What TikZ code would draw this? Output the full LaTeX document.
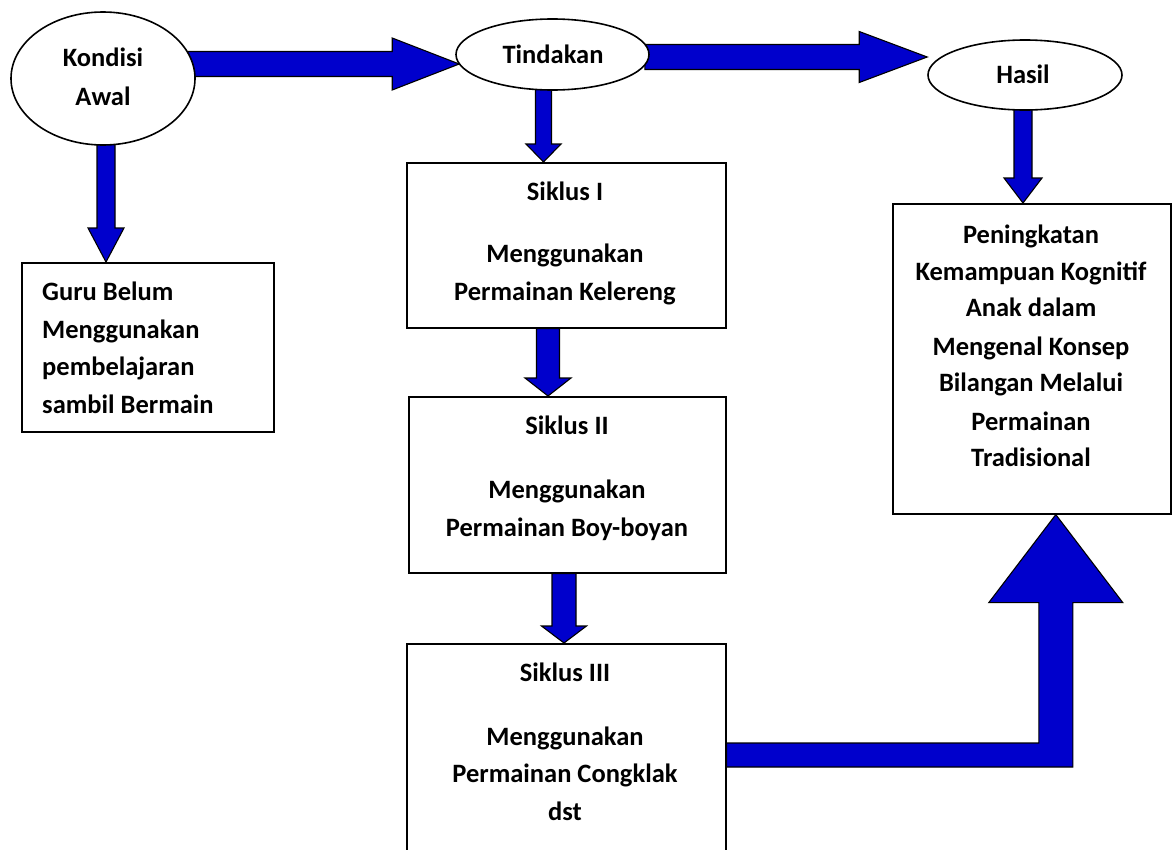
\documentclass[tikz,border=0pt]{standalone}
\usepackage{fontspec}
\setmainfont{Carlito}
\usetikzlibrary{shapes.geometric,calc}
\definecolor{arrowblue}{RGB}{0,0,204}
\pgfdeclarelayer{bg}
\pgfsetlayers{bg,main}
% horizontal fat arrow: #1 start, #2 tip, #3 shaft half, #4 head half, #5 head length
\newcommand\fatH[5]{\draw[fat] let \p1=#1, \p2=#2 in
  (\x1,\y2+#3pt) -- (\x2-#5pt,\y2+#3pt) -- (\x2-#5pt,\y2+#4pt) -- (\x2,\y2)
  -- (\x2-#5pt,\y2-#4pt) -- (\x2-#5pt,\y2-#3pt) -- (\x1,\y2-#3pt) -- cycle;}
% downward fat arrow
\newcommand\fatD[5]{\draw[fat] let \p1=#1, \p2=#2 in
  (\x2-#3pt,\y1) -- (\x2-#3pt,\y2+#5pt) -- (\x2-#4pt,\y2+#5pt) -- (\x2,\y2)
  -- (\x2+#4pt,\y2+#5pt) -- (\x2+#3pt,\y2+#5pt) -- (\x2+#3pt,\y1) -- cycle;}
\begin{document}
\begin{tikzpicture}[x=1pt,y=-1pt,
  oval/.style={ellipse,draw=black,line width=1.6pt,fill=white,inner sep=0pt},
  boxnode/.style={rectangle,draw=black,line width=1.6pt,fill=white,inner sep=0pt,anchor=north west},
  txt/.style={font=\fontsize{26.5}{37}\selectfont\bfseries,inner sep=0pt,anchor=base},
  ltxt/.style={txt,anchor=base west},
  fat/.style={fill=arrowblue,draw=black,line width=1.1pt,line join=miter}]
\useasboundingbox (0,0) rectangle (1173,849);

% ovals
\node[oval,minimum width=184pt,minimum height=133pt] (k) at (103,78.5) {};
\node[oval,minimum width=193pt,minimum height=71pt] (t) at (552.5,54.5) {};
\node[oval,minimum width=194pt,minimum height=70pt] (h) at (1025,75) {};

% boxes
\node[boxnode,minimum width=252pt,minimum height=169pt] (g) at (21,262) {};
\node[boxnode,minimum width=319pt,minimum height=165pt] (s1) at (406,162) {};
\node[boxnode,minimum width=317pt,minimum height=176pt] (s2) at (408,396) {};
\node[boxnode,minimum width=319pt,minimum height=260pt] (s3) at (406,643) {};
\node[boxnode,minimum width=278pt,minimum height=310pt] (p) at (892,203) {};

% arrows
\begin{pgfonlayer}{bg}
\fatH{($(k.east)+(-10,0)$)}{($(t.west)+(4,9.5)$)}{12.5}{26}{67}
\fatH{($(t.east)+(-5,0)$)}{($(h.west)+(0,-18)$)}{12.5}{25.5}{68}
\fatD{($(k.south)+(0,-4)$)}{($(g.north west)+(85,0)$)}{9}{18}{34}
\fatD{($(t.south)+(0,-4)$)}{($(s1.north west)+(137.5,0)$)}{8}{17.5}{18}
\fatD{($(h.south)+(0,-4)$)}{($(p.north west)+(131,0)$)}{9}{19}{25}
\fatD{(s1.south)}{($(s2.north west)+(140,0)$)}{11.5}{23}{18}
\fatD{(s2.south)}{($(s3.north west)+(158,0)$)}{12}{22.5}{17}
\draw[fat] let \p1=($(s3.north east)+(0,112)$), \p2=($(p.south)+(24,0)$) in
  (\x1,\y1+12pt) -- (\x2-17pt,\y1+12pt) -- (\x2-17pt,\y2-88pt) -- (\x2-67pt,\y2-88pt)
  -- (\x2,\y2) -- (\x2+67pt,\y2-88pt) -- (\x2+17pt,\y2-88pt) -- (\x2+17pt,\y1-12pt)
  -- (\x1,\y1-12pt) -- cycle;
\end{pgfonlayer}

% texts
\node[txt] (kt1) at (103,66) {Kondisi};
\node[txt] (kt2) at (103,105) {Awal};
\node[txt] (tt) at (553,63) {Tindakan};
\node[txt] (ht) at (1023,83) {Hasil};

\node[ltxt] (gt1) at (42,300) {Guru Belum};
\node[ltxt] (gt2) at (42,338) {Menggunakan};
\node[ltxt] (gt3) at (42,375) {pembelajaran};
\node[ltxt] (gt4) at (42,413) {sambil Bermain};

\node[txt] (s1a) at (565,200) {Siklus I};
\node[txt] (s1b) at (565,262) {Menggunakan};
\node[txt] (s1c) at (565,300) {Permainan Kelereng};

\node[txt] (s2a) at (567,434) {Siklus II};
\node[txt] (s2b) at (567,498) {Menggunakan};
\node[txt] (s2c) at (567,536) {Permainan Boy-boyan};

\node[txt] (s3a) at (565,681) {Siklus III};
\node[txt] (s3b) at (565,745) {Menggunakan};
\node[txt] (s3c) at (565,782) {Permainan Congklak};
\node[txt] (s3d) at (565,820) {dst};

\node[txt] (pt1) at (1031,243) {Peningkatan};
\node[txt] (pt2) at (1031,280) {Kemampuan Kognitif};
\node[txt] (pt3) at (1031,316) {Anak dalam};
\node[txt] (pt4) at (1031,355) {Mengenal Konsep};
\node[txt] (pt5) at (1031,391) {Bilangan Melalui};
\node[txt] (pt6) at (1031,430) {Permainan};
\node[txt] (pt7) at (1031,466) {Tradisional};
\end{tikzpicture}
\end{document}
